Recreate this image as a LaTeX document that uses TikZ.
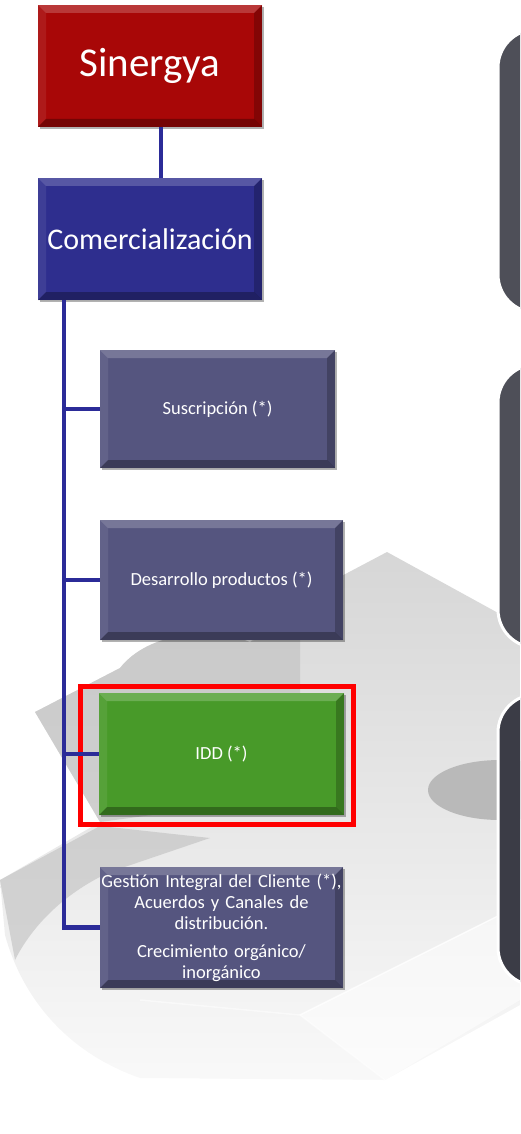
\documentclass[tikz,border=0pt]{standalone}
\usepackage{fontspec}
\setmainfont{Carlito}
\usetikzlibrary{shadows}

\definecolor{sinred}{HTML}{A80707}
\definecolor{comblue}{HTML}{2E2E8E}
\definecolor{subpurple}{HTML}{55557F}
\definecolor{iddgreen}{HTML}{489A29}
\definecolor{linkblue}{HTML}{2B2B98}
\definecolor{panelgray}{HTML}{4E4F58}
\definecolor{paneldark}{HTML}{3B3C46}

\tikzset{
  bevel/.style={path picture={
      \coordinate (bnw) at (path picture bounding box.north west);
      \coordinate (bne) at (path picture bounding box.north east);
      \coordinate (bsw) at (path picture bounding box.south west);
      \coordinate (bse) at (path picture bounding box.south east);
      \fill[white,opacity=.2] (bnw) -- (bne) -- ([xshift=-8pt,yshift=-8pt]bne) -- ([xshift=8pt,yshift=-8pt]bnw) -- cycle;
      \fill[white,opacity=.08] (bnw) -- (bsw) -- ([xshift=8pt,yshift=8pt]bsw) -- ([xshift=8pt,yshift=-8pt]bnw) -- cycle;
      \fill[black,opacity=.22] (bne) -- (bse) -- ([xshift=-8pt,yshift=8pt]bse) -- ([xshift=-8pt,yshift=-8pt]bne) -- cycle;
      \fill[black,opacity=.3] (bsw) -- (bse) -- ([xshift=-8pt,yshift=8pt]bse) -- ([xshift=8pt,yshift=8pt]bsw) -- cycle;
  }},
  box/.style={text=white, align=center, inner sep=0pt, bevel,
    drop shadow={shadow xshift=2pt, shadow yshift=-2pt, opacity=.3, fill=black}},
  mainbox/.style={box, minimum width=224pt, minimum height=122pt},
  subbox/.style={box, fill=subpurple, font=\fontsize{18.5}{21}\selectfont},
  link/.style={linkblue, line width=4.5pt},
  panel/.style={rounded corners=38pt, draw=white, line width=3pt, fill=panelgray,
    minimum width=140pt, anchor=north west}
}

\begin{document}
\begin{tikzpicture}[x=1pt, y=-1pt]
\useasboundingbox (0,0) rectangle (520,1134);
\clip (0,0) rectangle (520,1134);

% puzzle pieces behind the chart
\shade[top color=gray!32, bottom color=gray!5] (387,552) -- (520,625) -- (520,1005) -- (385,1080) -- (140,1078)
  .. controls (60,1050) and (20,990) .. (5,935) -- (0,880) -- (100,822) -- (35,712) -- (120,668)
  .. controls (150,630) and (215,628) .. (250,642) -- (300,598) -- cycle;
\fill[gray!50,opacity=.6] (35,712) -- (120,668) .. controls (150,630) and (215,628) .. (250,642)
  -- (300,620) -- (300,795) -- (100,822) -- cycle;
\fill[gray!50,opacity=.6] (0,880) -- (100,826) -- (210,838) -- (110,872) .. controls (60,895) and (30,930) .. (15,960) -- cycle;
\fill[gray!55] (500,790) ellipse [x radius=72, y radius=30];
\fill[white,opacity=.5] (300,1015) -- (520,905) -- (520,1000) -- (385,1080) -- cycle;
\draw[white,line width=1.5pt,opacity=.8] (300,1015) -- (520,905);
\draw[white,line width=1.5pt,opacity=.5] (140,1000) -- (300,1015) -- (385,1080);

% right hand panels
\node[panel, minimum height=283pt] (panelA) at (496.5,28) {};
\node[panel, minimum height=283pt] (panelB) at (496.5,363) {};
\node[panel, minimum height=291pt, fill=paneldark] (panelC) at (496.5,693) {};

% chart
\node[mainbox, fill=sinred, font=\fontsize{41}{49}\selectfont] (sinergya) at (150,66) {Sinergya};
\node[mainbox, fill=comblue, font=\fontsize{30}{36}\selectfont] (comerc) at (150,239) {Comercialización};

\node[subbox, minimum width=235pt, minimum height=118pt] (suscr) at (217.5,409) {Suscripción (*)};
\node[subbox, minimum width=243pt, minimum height=120pt] (desarr) at (221.5,580) {Desarrollo productos (*)};
\node[subbox, fill=iddgreen, minimum width=245pt, minimum height=122pt] (idd) at (221.5,754) {IDD (*)};
\node[subbox, text width=243pt, minimum height=121pt] (gestion) at (221.5,927.5)
  {Gestión Integral del Cliente (*),\\ Acuerdos y Canales de\\ distribución.\\[7pt] Crecimiento orgánico/\\ inorgánico};

\draw[red, line width=5pt] ([xshift=-18pt,yshift=6pt]idd.north west) rectangle ([xshift=9pt,yshift=-9.5pt]idd.south east);

\draw[link] ([xshift=11pt]sinergya.south) -- ([xshift=11pt]comerc.north);
\coordinate (trunk) at ([xshift=26pt]comerc.south west);
\draw[link] (trunk) |- (gestion.west);
\foreach \n in {suscr,desarr,idd}
  \draw[link] (trunk |- \n.west) -- (\n.west);
\end{tikzpicture}
\end{document}
